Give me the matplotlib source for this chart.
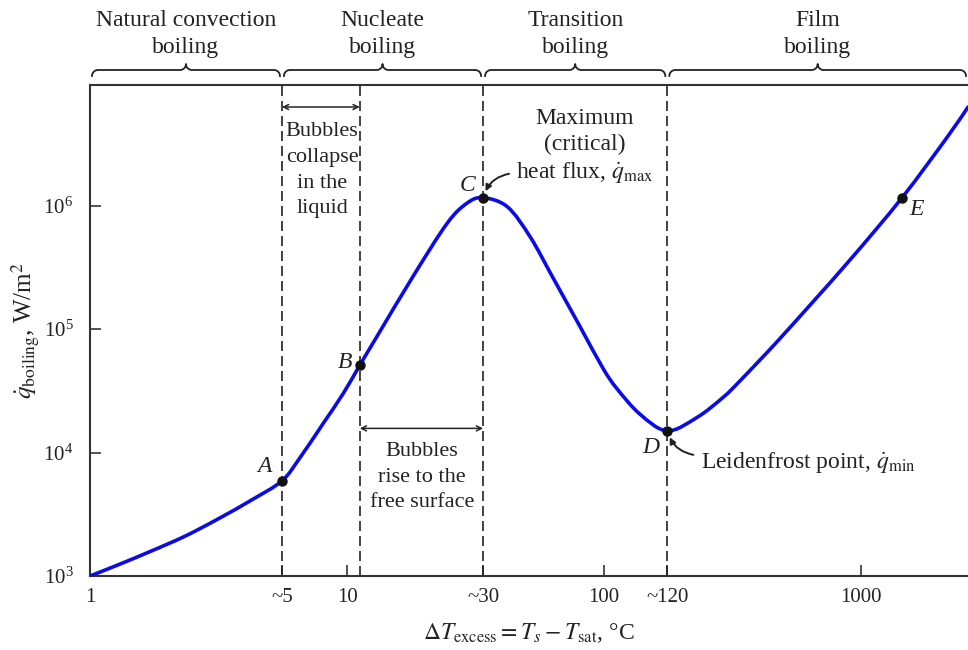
# Boiling curve (log-log) with regime annotations

import numpy as np
import matplotlib
matplotlib.use("Agg")
import matplotlib.pyplot as plt
from matplotlib.lines import Line2D
from matplotlib.path import Path
from matplotlib.patches import PathPatch
from matplotlib.transforms import IdentityTransform

plt.rcParams['font.family'] = ['Liberation Serif', 'DejaVu Serif']
plt.rcParams['mathtext.fontset'] = 'stix'

# Curve values
dT = [1, 1.285, 1.74, 2.34, 3.15, 4.27, 5.58, 6.56, 8.07, 9.65, 11.2, 13.1,
      18.1, 24.5, 29.3, 33.8, 42, 51.5, 63, 80.7, 99, 112, 138, 176, 230,
      290, 339, 484, 883, 1440, 2160, 2600]
q = [1e3, 1.23e3, 1.6e3, 2.1e3, 2.9e3, 4.15e3, 5.9e3, 9.1e3, 1.72e4, 3.0e4,
     5.1e4, 8.8e4, 2.7e5, 7.2e5, 1.05e6, 1.16e6, 9.8e5, 5.6e5, 2.64e5,
     1.04e5, 4.8e4, 3.3e4, 2.04e4, 1.5e4, 1.93e4, 2.8e4, 3.85e4, 8.45e4,
     3.44e5, 1.16e6, 3.6e6, 6.3e6]

# Marked points
point_labels = ['A', 'B', 'C', 'D', 'E']
point_dT = [5.58, 11.2, 33.8, 176, 1440]
point_q = [5.9e3, 5.1e4, 1.16e6, 1.5e4, 1.16e6]

# Regime boundaries and titles
boundaries = [5.58, 11.2, 33.8, 176]
region_edges = [1, 5.58, 33.8, 176, 2600]
region_titles = ['Natural convection\nboiling', 'Nucleate\nboiling',
                 'Transition\nboiling', 'Film\nboiling']

xtick_vals = [1, 5.58, 10, 33.8, 100, 176, 1000]
xtick_labels = ['1', '~5', '10', '~30', '100', '~120', '1000']
ytick_vals = [1e3, 1e4, 1e5, 1e6]

ink = '#222222'
fs = 17


def smooth_path(xv, yv):
    # cubic Bezier through the read points (control points in log space)
    lx, ly = np.log10(xv), np.log10(yv)
    P = np.column_stack([lx, ly])
    P = np.vstack([P[0], P, P[-1]])
    verts, codes = [P[1]], [Path.MOVETO]
    for i in range(1, len(P) - 2):
        c1 = P[i] + (P[i + 1] - P[i - 1]) / 6
        c2 = P[i + 1] - (P[i + 2] - P[i]) / 6
        verts += [c1, c2, P[i + 1]]
        codes += [Path.CURVE4] * 3
    return Path(10 ** np.array(verts), codes)


fig = plt.figure(figsize=(9.68, 6.5), dpi=100)
ax = fig.add_axes([90 / 968, 1 - 576 / 650, 1 - 90 / 968, (576 - 85) / 650])
ax.set_xscale('log')
ax.set_yscale('log')
ax.set_xlim(1, 2600)
ax.set_ylim(1e3, 9.5e6)

ax.add_patch(PathPatch(smooth_path(dT, q), fill=False, edgecolor='#0b0bea',
                       lw=2.6, joinstyle='round', capstyle='round', zorder=3,
                       transform=ax.transData))

for b in boundaries:
    ax.axvline(b, color=ink, lw=1.2, ls=(0, (6, 3)), zorder=2)

ax.plot(point_dT, point_q, 'o', color='#111111', ms=6.5, zorder=4)
offsets = [(-17, 14), (-15, 3), (-16, 12), (-17, -17), (14, -12)]
for lab, x, y, off in zip(point_labels, point_dT, point_q, offsets):
    ax.annotate(lab, (x, y), xytext=off, textcoords='offset pixels',
                ha='center', va='center', fontsize=fs, style='italic',
                color=ink)

# axes styling
for s in ['left', 'bottom', 'top']:
    ax.spines[s].set_color('#333333')
    ax.spines[s].set_linewidth(1.5)
ax.spines['right'].set_visible(False)
ax.set_xticks(xtick_vals, xtick_labels)
ax.set_yticks(ytick_vals)
ax.xaxis.set_minor_locator(matplotlib.ticker.NullLocator())
ax.yaxis.set_minor_locator(matplotlib.ticker.NullLocator())
ax.tick_params(direction='in', length=8, width=1.2, labelsize=15,
               colors='#333333', labelcolor=ink)
ax.tick_params(axis='x', pad=9)
ax.tick_params(axis='y', pad=12)

ax.set_xlabel(r'$\Delta T_{\mathrm{excess}} = T_s - T_{\mathrm{sat}}$, °C',
              fontsize=fs, labelpad=10, color=ink)
ax.set_ylabel(r'$\dot{q}_{\mathrm{boiling}}$, W/m$^2$', fontsize=18,
              labelpad=2, color=ink)

# regime titles and braces
tr = ax.get_xaxis_transform()
t = np.linspace(0, np.pi / 2, 12)
r = 6
yb = 650 - 70
for i, title in enumerate(region_titles):
    x0, x1 = region_edges[i], region_edges[i + 1]
    ax.text(np.sqrt(x0 * x1), 1.104, title, transform=tr, ha='center',
            va='center', fontsize=fs, linespacing=1.38, color=ink)

    p0 = ax.transData.transform((x0, 1e3))[0] + 2
    p1 = ax.transData.transform((x1, 1e3))[0] - 2
    pm = 0.5 * (p0 + p1)
    xs = np.concatenate([p0 + r - r * np.cos(t),
                         pm - r + r * np.sin(t),
                         pm + r - r * np.cos(t),
                         p1 - r + r * np.sin(t)])
    ys = np.concatenate([yb - r + r * np.sin(t),
                         yb + r - r * np.cos(t),
                         yb + r - r * np.sin(t),
                         yb - r + r * np.cos(t)])
    fig.add_artist(Line2D(xs, ys, transform=IdentityTransform(), color=ink,
                          lw=1.3))

# bubble annotations
arrow_kw = dict(arrowstyle='<->', color=ink, lw=1.1, shrinkA=0, shrinkB=0,
                mutation_scale=9)
ax.annotate('', xy=(5.58, 6.3e6), xytext=(11.2, 6.3e6), arrowprops=arrow_kw)
ax.text(8.0, 1.94e6, 'Bubbles\ncollapse\nin the\nliquid', ha='center',
        va='center', fontsize=16, linespacing=1.48, color=ink)
ax.annotate('', xy=(11.2, 1.57e4), xytext=(33.8, 1.57e4), arrowprops=arrow_kw)
ax.text(19.6, 6.33e3, 'Bubbles\nrise to the\nfree surface', ha='center',
        va='center', fontsize=16, linespacing=1.48, color=ink)

ax.text(84, 3.0e6, 'Maximum\n(critical)\nheat flux, $\\dot{q}_{\\max}$',
        ha='center', va='center', fontsize=fs, linespacing=1.32, color=ink)
ax.annotate('', xy=(33.8, 1.16e6), xytext=(26, 24), textcoords='offset pixels',
            arrowprops=dict(arrowstyle='-|>', color=ink, lw=1.4, shrinkA=0,
                            shrinkB=5, mutation_scale=9,
                            connectionstyle='arc3,rad=0.3'))

ax.text(237, 8.1e3, 'Leidenfrost point, $\\dot{q}_{\\min}$', ha='left',
        va='center', fontsize=fs, color=ink)
ax.annotate('', xy=(176, 1.5e4), xytext=(26, -24), textcoords='offset pixels',
            arrowprops=dict(arrowstyle='-|>', color=ink, lw=1.4, shrinkA=0,
                            shrinkB=5, mutation_scale=9,
                            connectionstyle='arc3,rad=-0.3'))

fig.savefig('out.png', dpi=100)
